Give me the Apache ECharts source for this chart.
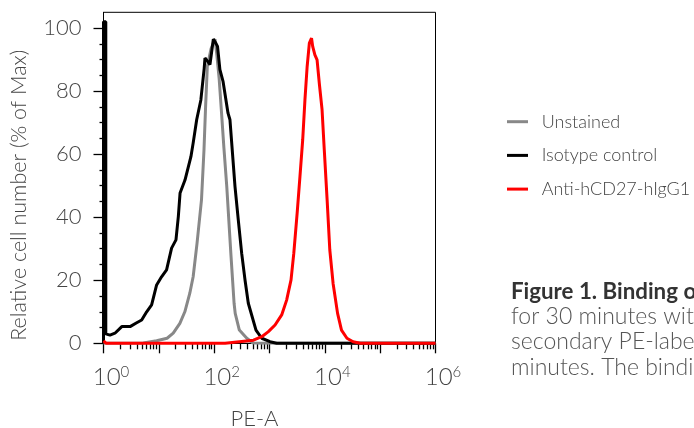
<!DOCTYPE html>
<html>
<head>
<meta charset="utf-8">
<script src="https://cdn.jsdelivr.net/npm/echarts@6/dist/echarts.min.js"></script>
<style>
html,body{margin:0;padding:0;background:#fff;}
#chart{width:694px;height:428px;}
</style>
</head>
<body>
<div id="chart"></div>
<script>
// Series names (legend order)
var seriesNames = ['Unstained', 'Isotype control', 'Anti-hCD27-hIgG1'];

// [PE-A intensity, relative cell number (% of Max)]
var unstained = [
  [1, 0], [5.25, 0.1], [9.12, 0.8], [14.1, 1.6], [18.2, 3.2], [24.0, 6.3], [29.5, 10],
  [36.3, 15.9], [41.7, 21.1], [49.0, 31.7], [59.0, 45.5], [65.5, 61.4], [70.0, 75.1],
  [75.2, 87.8], [88.0, 93.5], [103.5, 96.5], [111, 92.0], [123, 84.0], [136, 73.0],
  [150, 62.0], [169, 49.7], [200, 28.6], [215, 20.1], [229, 12.7], [240, 9.5],
  [285, 4.2], [389, 1.6], [500, 0.1], [631, 0], [1000000, 0]
];

var isotype = [
  [1, 0], [1, 102], [1.1, 102], [1.1, 3], [1.31, 2.6], [1.61, 3.2], [2.14, 5.3], [3.02, 5.3],
  [3.98, 6.5], [4.90, 7.4], [6.03, 10.0], [7.41, 12.2], [9.12, 18.5], [11.2, 21.1],
  [13.8, 23.3], [17.0, 30.2], [20.4, 32.8], [22.5, 40.2], [24.2, 47.7], [29.7, 51.8],
  [38.0, 59.2], [41.7, 63.5], [48.3, 70.9], [57.5, 77.2], [66.1, 87.3], [68.2, 90.5],
  [76.0, 89.5], [84.0, 88.4], [96.6, 96.5], [105, 95.5], [115, 94.2], [127, 86.8],
  [145, 83.0], [178, 73.0], [193, 70.9], [238, 49.7], [273, 39.1], [314, 28.6],
  [361, 20.1], [414, 12.7], [570, 4.2], [724, 1.6], [1020, 0.5], [1350, 0], [1000000, 0]
];

var antiCD27 = [
  [1, 0.8], [1.12, 0], [158, 0], [170, 0.5], [513, 1.0], [724, 2.1], [955, 3.7],
  [1260, 5.8], [1660, 9.0], [2040, 13.7], [2450, 20.1], [2750, 28.6], [3160, 41.3],
  [3550, 52.9], [3980, 64.5], [4370, 77.2], [4790, 87.8], [5250, 95.2], [5750, 96.8],
  [6030, 94.2], [6610, 91.5], [7240, 89.9], [7940, 82.5], [8910, 74.1], [9770, 61.4],
  [11000, 45.5], [12300, 29.6], [14100, 19.0], [17000, 9.5], [20000, 4.2],
  [25100, 1.6], [32400, 0.5], [43700, 0], [1000000, 0]
];

var yTickValues = [0, 20, 40, 60, 80, 100];
var xLabelExponents = [0, 2, 4, 6];

var captionLines = [
  'Figure 1. Binding of',
  'for 30 minutes with',
  'secondary PE-labeled',
  'minutes. The binding'
];

var FONT = 'Lato, "Open Sans", "DejaVu Sans", sans-serif';

var chart = echarts.init(document.getElementById('chart'), null, {renderer: 'canvas'});

var option = {
  animation: false,
  backgroundColor: '#ffffff',
  grid: {
    left: 103.5, right: 258.5, top: 12.3, bottom: 84.7,
    containLabel: false, outerBoundsMode: 'none',
    show: true, borderColor: '#000', borderWidth: 1
  },
  legend: {
    orient: 'vertical',
    left: 507, top: 112.7, padding: 0,
    icon: 'rect',
    itemWidth: 21, itemHeight: 3, itemGap: 15.7,
    data: seriesNames,
    textStyle: {
      fontFamily: FONT, fontSize: 18, fontWeight: 300, color: '#444',
      lineHeight: 18, padding: [0, 0, 0, 8.7]
    }
  },
  xAxis: {
    type: 'log', logBase: 10, min: 1, max: 1000000,
    name: 'PE-A', nameLocation: 'middle', nameGap: 65,
    nameTextStyle: {fontFamily: FONT, fontSize: 22, fontWeight: 300, color: '#444', padding: [0, 30, 0, 0]},
    axisLine: {show: true, lineStyle: {color: '#000', width: 1}},
    axisTick: {show: true, length: 10, lineStyle: {color: '#000', width: 1.3}},
    minorTick: {show: true, splitNumber: 9, length: 6, lineStyle: {color: '#000', width: 1.3}},
    splitLine: {show: false},
    minorSplitLine: {show: false},
    axisLabel: {
      margin: 21,
      padding: [0, 0, 0, 15],
      formatter: function (v) {
        var e = Math.round(Math.log10(v));
        if (xLabelExponents.indexOf(e) < 0) return '';
        return '{b|10}{s|' + e + '}';
      },
      rich: {
        b: {fontFamily: FONT, fontSize: 24, fontWeight: 300, color: '#444', lineHeight: 26},
        s: {fontFamily: FONT, fontSize: 15, fontWeight: 300, color: '#444', verticalAlign: 'top', lineHeight: 15}
      }
    }
  },
  yAxis: {
    type: 'value', min: 0, max: 105, interval: 20,
    name: 'Relative cell number (% of Max)', nameLocation: 'middle', nameGap: 73,
    nameTextStyle: {fontFamily: FONT, fontSize: 21.5, fontWeight: 300, color: '#444', padding: [0, 35, 0, 0]},
    axisLine: {show: true, lineStyle: {color: '#000', width: 1}},
    axisTick: {show: true, length: 10, customValues: yTickValues, lineStyle: {color: '#000', width: 1.3}},
    minorTick: {show: true, splitNumber: 4, length: 4, lineStyle: {color: '#000', width: 1.3}},
    splitLine: {show: false},
    minorSplitLine: {show: false},
    axisLabel: {
      margin: 22, customValues: yTickValues,
      fontFamily: FONT, fontSize: 22, fontWeight: 300, color: '#444'
    }
  },
  series: [
    {
      name: seriesNames[0], type: 'line', data: unstained, symbol: 'none', showSymbol: false,
      color: '#888888', lineStyle: {color: '#888888', width: 3}, z: 2
    },
    {
      name: seriesNames[1], type: 'line', data: isotype, symbol: 'none', showSymbol: false, clip: false,
      color: '#000000', lineStyle: {color: '#000000', width: 3}, z: 3
    },
    {
      name: seriesNames[2], type: 'line', data: antiCD27, symbol: 'none', showSymbol: false, clip: false,
      color: '#ff0000', lineStyle: {color: '#ff0000', width: 3}, z: 4
    }
  ],
  graphic: [
    {
      type: 'text', left: 511, top: 280.4,
      style: {
        text: '{b|' + captionLines[0] + '}\n{n|' + captionLines[1] + '}\n{n|' + captionLines[2] + '}\n{n|' + captionLines[3] + '}',
        rich: {
          b: {fontFamily: FONT, fontSize: 22.3, fontWeight: 'bold', fill: '#333', lineHeight: 25.3},
          n: {fontFamily: FONT, fontSize: 23, fontWeight: 300, fill: '#555', lineHeight: 25.3}
        }
      }
    }
  ]
};

chart.setOption(option);
</script>
</body>
</html>
